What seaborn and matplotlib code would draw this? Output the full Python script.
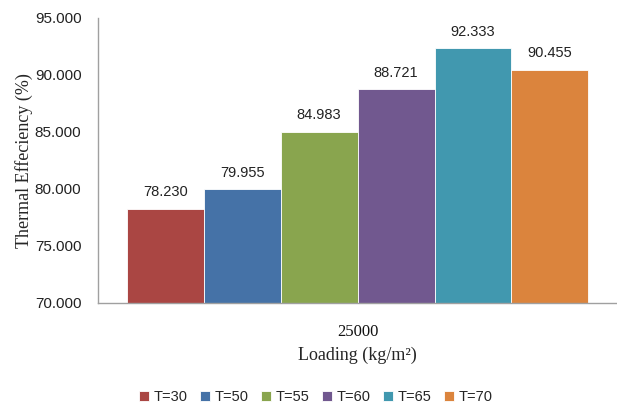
import matplotlib
matplotlib.use("Agg")
import matplotlib.pyplot as plt
import seaborn as sns
import pandas as pd

loading = ["25000"]
temps = ["T=30", "T=50", "T=55", "T=60", "T=65", "T=70"]
efficiency = [78.230, 79.955, 84.983, 88.721, 92.333, 90.455]
colors = ["#AA4643", "#4572A7", "#89A54E", "#71588F", "#4198AF", "#DB843D"]
yticks = [70, 75, 80, 85, 90, 95]

df = pd.DataFrame({
    "Loading": loading * len(temps),
    "Temp": temps,
    "Efficiency": efficiency,
})

sns.set_style("white")
plt.rcParams["font.family"] = ["Liberation Sans", "DejaVu Sans"]

fig = plt.figure(figsize=(6.17, 4.05), dpi=100)
ax = fig.add_axes([0.159, 0.252, 0.841, 0.704])

sns.barplot(data=df, x="Loading", y="Efficiency", hue="Temp",
            palette=colors, width=0.89, ax=ax, legend=True,
            edgecolor="white", linewidth=0.6, saturation=1)

ax.set_xlim(-0.5, 0.5)
ax.set_ylim(70, 95)
ax.set_yticks(yticks)
ax.set_yticklabels([f"{v:.3f}" for v in yticks], fontsize=11, color="#222222")
ax.tick_params(axis="y", length=0, pad=12)
ax.tick_params(axis="x", length=0, pad=15)
ax.set_xticks([0])
ax.set_xticklabels(loading, fontfamily="Liberation Serif", fontsize=12,
                   color="#111111")

for side in ["top", "right"]:
    ax.spines[side].set_visible(False)
for side in ["left", "bottom"]:
    ax.spines[side].set_color("#A0A0A0")
    ax.spines[side].set_linewidth(1)

for cont in ax.containers:
    ax.bar_label(cont, fmt="%.3f", padding=7, fontsize=10.5, color="#222222")

ax.set_ylabel("Thermal Effeciency (%)", fontfamily="Liberation Serif",
              fontsize=13)
ax.yaxis.set_label_coords(-0.125, 0.5)
ax.set_xlabel("Loading (kg/m²)", fontfamily="Liberation Serif",
              fontsize=13, labelpad=5)

handles, labels = ax.get_legend_handles_labels()
ax.get_legend().remove()
fig.legend(handles, labels, loc="center", bbox_to_anchor=(0.512, 0.02),
           ncol=6, frameon=False, fontsize=10.5, handlelength=0.7,
           handleheight=0.7, handletextpad=0.3, columnspacing=0.85)

fig.savefig("out.png", dpi=100)
